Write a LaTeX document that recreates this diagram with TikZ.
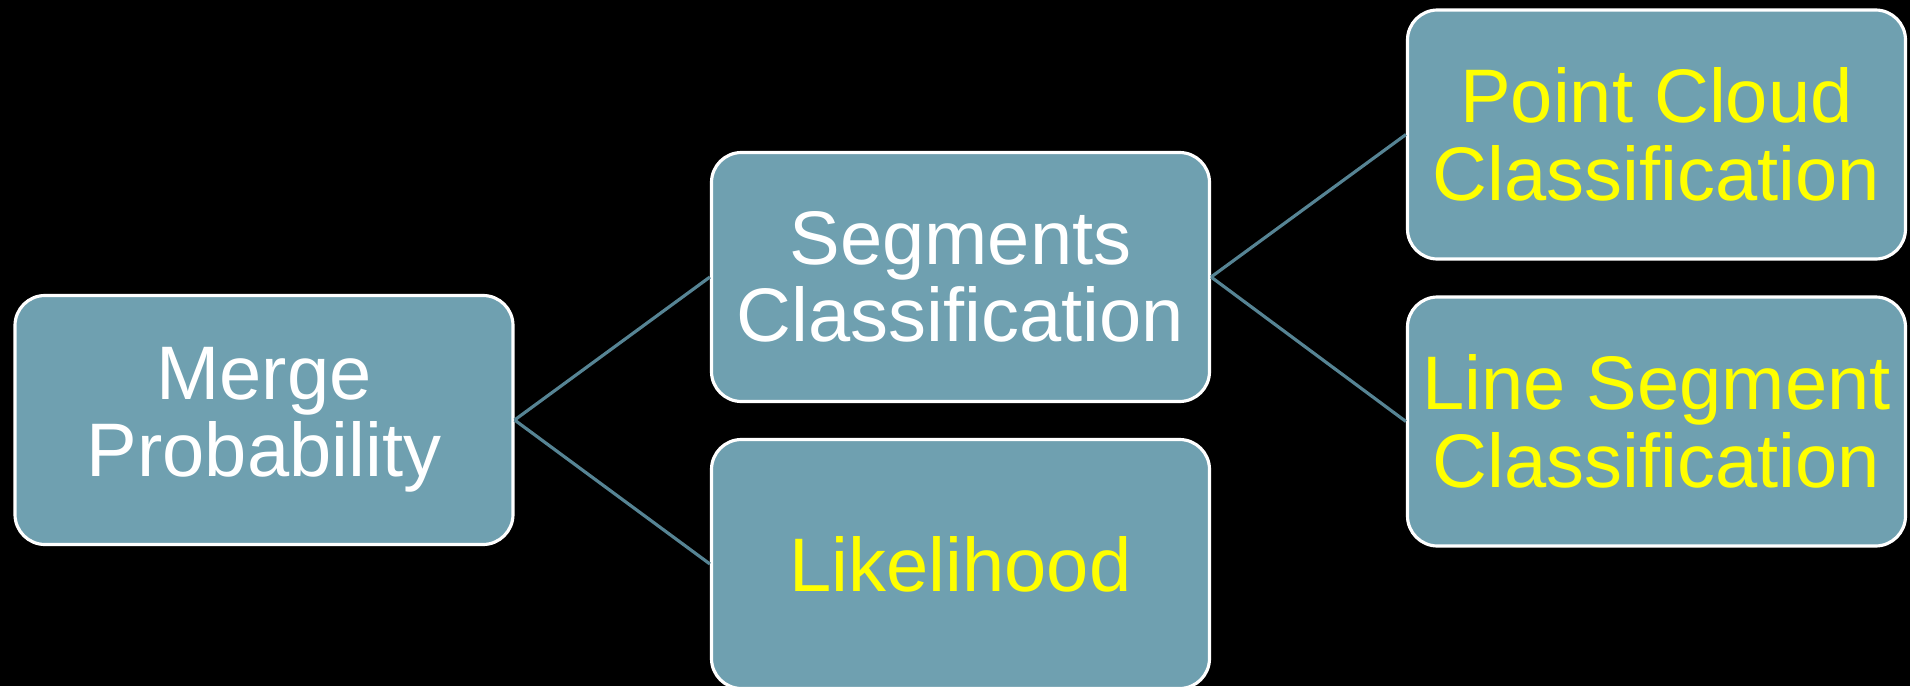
\documentclass[tikz,border=0pt]{standalone}
\usepackage{fontspec}
\setmainfont{Liberation Sans}
\usepackage{xcolor}
\usetikzlibrary{positioning}

\definecolor{boxteal}{RGB}{111,160,176}
\definecolor{linkteal}{RGB}{86,132,148}
\definecolor{hiyellow}{RGB}{255,255,0}

\begin{document}
\begin{tikzpicture}[
  box/.style={draw=white, line width=0.9pt, fill=boxteal, rounded corners=0.3cm,
    minimum width=4.98cm, minimum height=2.49cm, inner sep=0pt, align=center,
    font=\fontsize{21.6}{22}\selectfont},
  link/.style={draw=linkteal, line width=0.9pt}
]
% black background, fixes the page size too
\fill[black] (0,0) rectangle (19.1,6.86);
\useasboundingbox (0,0) rectangle (19.1,6.86);

% Tree of classifiers
\node[box, text=white] (merge) at (2.64,2.66) {Merge\\Probability};

\node[box, text=white] (seg) at (9.605,4.09) {Segments\\Classification};
\node[box, text=hiyellow] (like) at (9.605,1.22) {Likelihood};

\node[box, text=hiyellow] (cloud) at (16.565,5.515) {Point Cloud\\Classification};
\node[box, text=hiyellow] (line) at (16.565,2.645) {Line Segment\\Classification};

\draw[link] (merge.east) -- (seg.west);
\draw[link] (merge.east) -- (like.west);

\draw[link] (seg.east) -- (cloud.west);
\draw[link] (seg.east) -- (line.west);
\end{tikzpicture}
\end{document}
